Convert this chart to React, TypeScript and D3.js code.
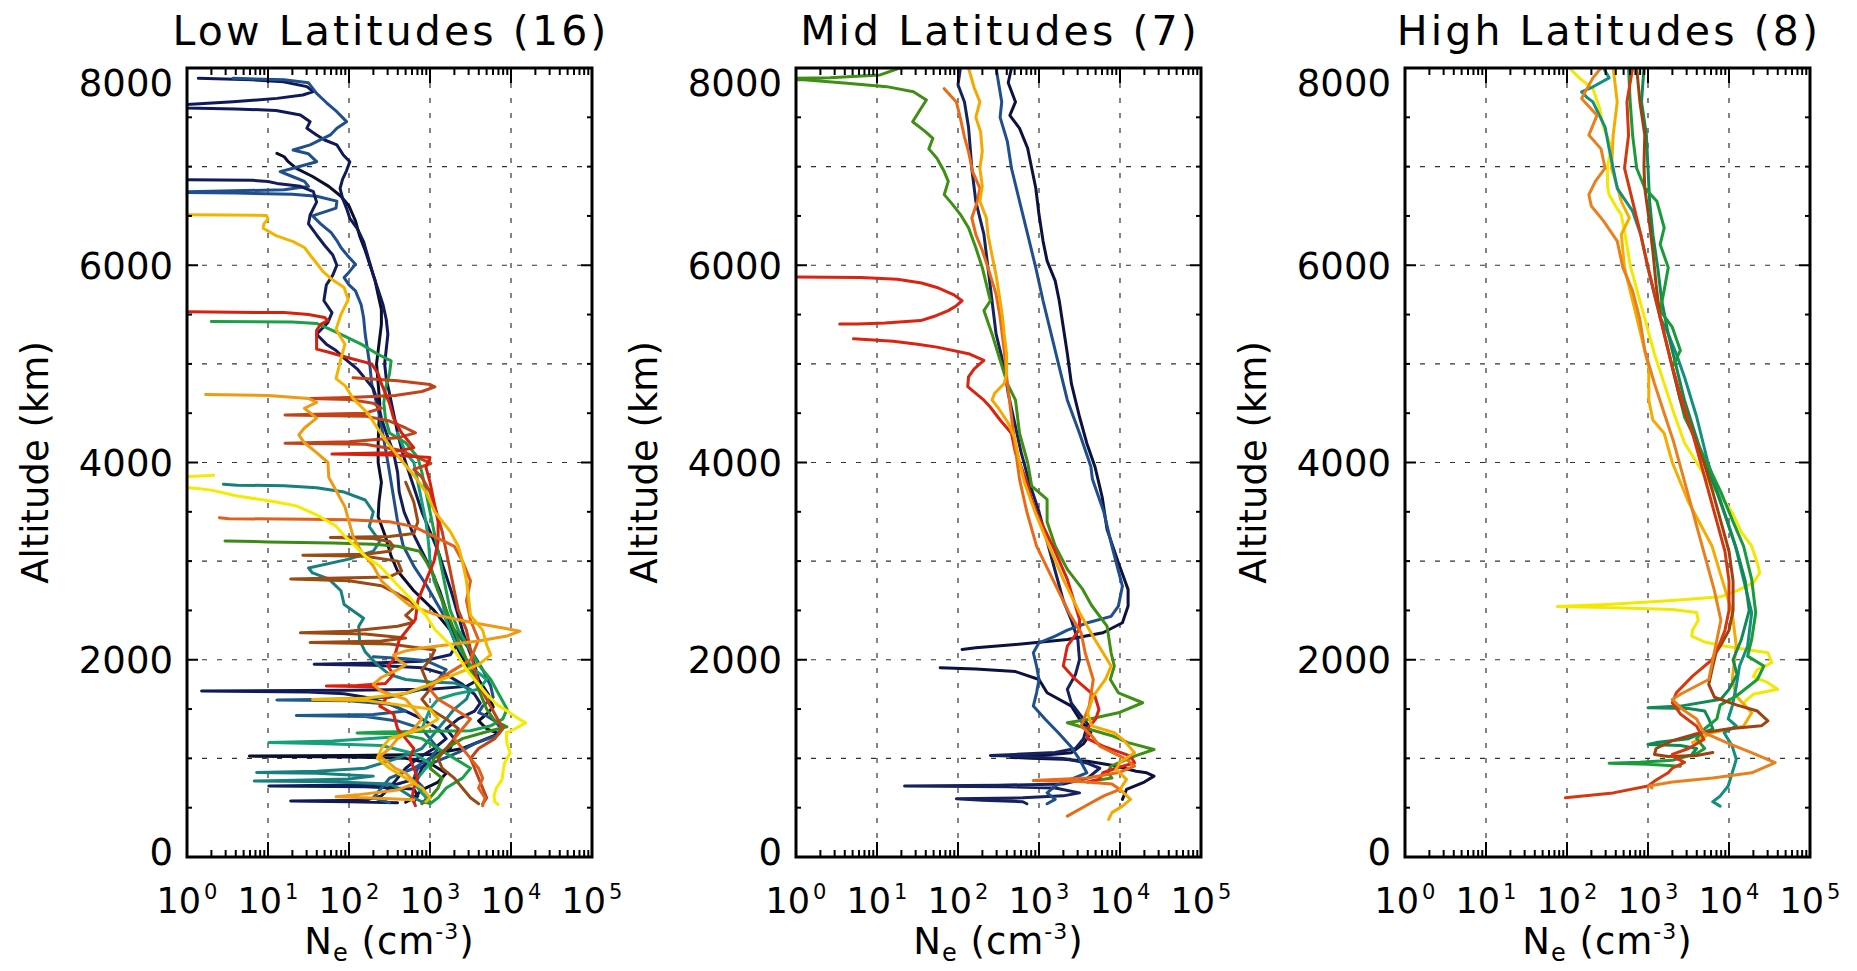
import React from "react";
import * as d3 from "d3";

// Each profile point: [altitude (km), log10 Ne (cm^-3)]; null = gap in the profile
type Pt = [number, number] | null;

// ---------------- axes / labels ----------------
const panelTitles = ["Low Latitudes (16)", "Mid Latitudes (7)", "High Latitudes (8)"];
const yTickValues = [0, 2000, 4000, 6000, 8000];
const yGridValues = [1000, 2000, 3000, 4000, 5000, 6000, 7000];
const yMinorStep = 500;
const xDecades = [0, 1, 2, 3, 4, 5];
const xDomain = [1, 1e5];
const yDomain = [0, 8000];

// ---------------- Low latitudes (16 profiles) ----------------
const low01: Pt[] = [[7135,1.11],[7100,1.2],[7050,1.25],[6983,1.35],[6900,1.55],[6800,1.75],[6700,1.9],[6600,2.0],[6450,2.08],[6300,2.13],[6150,2.2],[6000,2.26],[5850,2.32],[5700,2.36],[5550,2.4],[5400,2.4],[5200,2.37],[5000,2.34],[4800,2.36],[4600,2.38],[4400,2.37],[4200,2.36],[4000,2.36],[3800,2.4],[3600,2.37],[3450,2.36],[3250,2.45],[3050,2.52],[2900,2.6],[2700,2.8],[2500,3.05],[2300,3.25],[2100,3.35],[1950,3.45],[1800,3.6],[1650,3.72],[1520,3.78],[1450,3.7],[1380,3.6],[1300,3.7],[1250,3.85],[1200,3.7],[1100,3.4],[1040,3.0],[1030,2.0],[1023,0.77],[1015,2.0],[1000,2.7],[950,3.0],[850,3.2],[760,3.1],[680,2.9],[600,2.8],[555,2.7]];
const low02: Pt[] = [[7895,0.14],[7880,0.8],[7861,1.19],[7811,1.48],[7760,1.56],[7726,1.43],[7692,1.11],[7658,0.57],[7630,0.0],[7610,-0.3],[7595,0.0],[7585,0.6],[7570,1.1],[7523,1.4],[7456,1.52],[7390,1.48],[7321,1.6],[7270,1.7],[7220,1.85],[7118,1.93],[7050,2.01],[6960,1.97],[6870,1.92],[6780,1.89],[6680,1.92],[6577,1.97],[6476,2.01],[6375,2.1],[6240,2.18],[6070,2.24],[5900,2.3],[5750,2.36],[5600,2.42],[5450,2.46],[5300,2.48],[5150,2.46],[5000,2.44],[4850,2.46],[4700,2.5],[4500,2.55],[4300,2.6],[4100,2.66],[3900,2.74],[3700,2.82],[3500,2.9],[3300,3.0],[3100,3.1],[2900,3.18],[2700,3.26],[2500,3.33],[2300,3.4],[2100,3.48],[1950,3.55],[1800,3.6],[1730,3.45],[1700,3.0],[1690,2.0],[1682,0.18],[1672,1.5],[1655,1.94],[1620,2.2],[1550,2.5],[1480,2.7],[1400,2.9],[1300,3.1],[1200,3.2],[1100,3.05],[1000,2.85],[900,2.7],[800,2.6],[700,2.5],[620,2.4],[575,2.2],[567,1.28],[560,2.0],[550,2.6]];
const low03: Pt[] = [[7895,0.57],[7880,1.2],[7850,1.5],[7743,1.6],[7650,1.72],[7557,1.85],[7456,1.97],[7390,1.85],[7321,1.77],[7220,1.52],[7169,1.31],[7130,1.5],[7050,1.6],[6983,1.31],[6949,1.15],[6900,1.3],[6850,1.45],[6800,1.5],[6765,1.2],[6750,0.3],[6742,-0.3],[6732,0.6],[6720,1.3],[6700,1.6],[6650,1.85],[6580,1.84],[6500,1.55],[6420,1.65],[6330,1.78],[6250,1.85],[6180,1.9],[6100,1.98],[6010,2.08],[5930,2.0],[5875,1.94],[5800,2.0],[5740,2.08],[5600,2.15],[5470,2.18],[5300,2.2],[5136,2.23],[4968,2.26],[4800,2.28],[4632,2.33],[4464,2.38],[4230,2.43],[4000,2.48],[3800,2.52],[3600,2.56],[3400,2.6],[3153,2.67],[2950,2.8],[2750,2.96],[2550,3.1],[2409,3.2],[2200,3.4],[2037,3.55],[1900,3.65],[1733,3.75],[1620,3.78],[1530,3.65],[1463,3.6],[1430,3.7],[1380,3.8],[1300,3.88],[1230,3.82],[1150,3.55],[1060,3.35],[960,3.05],[900,2.85],[800,2.8],[720,2.9],[640,2.95],[580,2.95],[550,2.9]];
const low04: Pt[] = [[6870,-0.3],[6866,0.02],[6862,0.8],[6850,1.0],[6830,1.11],[6800,1.4],[6746,1.56],[6640,1.6],[6510,1.52],[6420,1.5],[6307,1.6],[6200,1.7],[6104,1.8],[6000,1.85],[5900,1.8],[5800,1.72],[5640,1.69],[5520,1.79],[5420,1.74],[5300,1.6],[5200,1.72],[5136,1.84],[5050,1.95],[4950,2.1],[4850,2.2],[4750,2.3],[4600,2.36],[4450,2.4],[4300,2.46],[4100,2.55],[3900,2.6],[3700,2.62],[3500,2.68],[3300,2.78],[3100,2.9],[2900,3.02],[2700,3.12],[2500,3.2],[2300,3.28],[2150,3.33],[2050,3.25],[1985,2.9],[1965,2.2],[1955,1.57],[1945,2.3],[1920,2.9],[1850,3.2],[1750,3.4],[1650,3.55],[1560,3.62],[1480,3.55],[1400,3.35],[1300,3.2],[1200,3.3],[1100,3.25],[1000,3.0],[900,2.9],[800,2.85],[740,2.6],[728,1.8],[720,1.01],[712,2.2],[690,2.8],[620,2.85],[560,2.8]];
const low05: Pt[] = [[2030,2.3],[2010,2.7],[1990,2.95],[1900,3.2],[1800,3.1],[1700,2.9],[1620,2.5],[1600,1.8],[1592,1.11],[1585,2.0],[1550,2.5],[1480,2.7],[1445,2.3],[1435,1.35],[1425,2.2],[1380,2.6],[1300,2.9],[1200,3.0],[1100,3.1],[1000,3.0],[900,2.8],[800,2.5],[700,2.4],[600,2.3],[550,2.5]];
const low06: Pt[] = [[3780,0.45],[3770,0.62],[3765,1.2],[3745,1.6],[3700,1.94],[3620,2.2],[3500,2.3],[3350,2.25],[3200,2.38],[3100,2.3],[3020,2.0],[2930,1.5],[2880,1.55],[2820,1.75],[2700,1.9],[2560,1.94],[2420,2.18],[2340,2.12],[2200,2.13],[2080,2.2],[1950,2.35],[1850,2.5],[1800,2.7],[1775,3.0],[1765,3.3],[1700,3.5],[1600,3.45],[1500,3.3],[1400,3.2],[1300,3.1],[1200,3.0],[1100,2.9],[1000,2.6],[900,2.2],[870,1.6],[858,0.86],[848,1.6],[820,2.3],[790,2.0],[776,1.2],[770,0.83],[762,1.8],[740,2.5],[700,2.6],[620,2.75],[560,2.9],[545,3.0]];
const low07: Pt[] = [[4300,2.6],[4100,2.7],[4000,2.8],[3800,2.85],[3600,2.9],[3400,2.95],[3200,2.98],[3000,3.0],[2800,3.05],[2600,3.15],[2400,3.2],[2200,3.3],[2000,3.45],[1900,3.55],[1800,3.7],[1700,3.6],[1650,3.3],[1600,3.1],[1500,3.0],[1400,2.95],[1300,2.9],[1220,2.6],[1175,1.8],[1160,1.01],[1150,1.6],[1130,2.4],[1050,2.8],[950,3.0],[850,2.9],[750,2.8],[650,2.9],[560,3.0]];
const low08: Pt[] = [[5430,0.3],[5425,1.3],[5410,1.6],[5360,1.74],[5300,1.9],[5200,2.15],[5100,2.35],[5030,2.52],[4900,2.5],[4750,2.45],[4600,2.43],[4450,2.45],[4300,2.5],[4200,2.7],[4050,2.85],[3900,2.9],[3700,2.95],[3500,3.0],[3300,3.05],[3100,3.1],[2900,3.15],[2700,3.2],[2500,3.25],[2300,3.35],[2100,3.5],[1950,3.6],[1800,3.75],[1650,3.85],[1500,3.95],[1400,3.9],[1330,3.75],[1280,3.5],[1268,2.4],[1258,2.1],[1250,2.6],[1200,2.9],[1100,3.1],[1000,3.3],[900,3.5],[800,3.4],[700,3.2],[600,3.1],[540,3.0]];
const low09: Pt[] = [[3205,0.47],[3195,1.0],[3185,1.8],[3172,2.3],[3150,2.6],[3100,2.87],[3000,2.95],[2850,3.05],[2700,3.1],[2500,3.2],[2300,3.3],[2100,3.4],[1900,3.5],[1700,3.6],[1500,3.7],[1380,3.8],[1320,3.95],[1270,3.7],[1200,3.4],[1100,3.2],[1000,3.05],[900,3.0],[800,3.15],[700,3.1],[600,3.0],[540,2.9]];
const low10: Pt[] = [[3800,2.7],[3600,2.8],[3400,2.85],[3280,2.8],[3250,2.5],[3240,1.77],[3230,2.3],[3200,2.5],[3150,2.55],[3100,2.5],[3070,2.2],[3060,1.43],[3050,2.2],[3000,2.6],[2900,2.65],[2840,2.5],[2820,1.28],[2800,2.0],[2750,2.4],[2680,2.57],[2600,2.75],[2540,2.82],[2450,2.7],[2380,2.8],[2340,2.6],[2290,2.0],[2275,1.4],[2260,2.2],[2220,2.7],[2190,2.4],[2175,1.52],[2160,2.5],[2100,3.06],[2000,3.0],[1900,2.9],[1800,2.95],[1700,3.0],[1600,2.9],[1500,3.0],[1400,3.2],[1300,3.35],[1200,3.3],[1100,3.2],[1000,3.1],[900,3.15],[800,3.3],[700,3.4],[600,3.5],[540,3.6]];
const low11: Pt[] = [[4860,2.05],[4830,2.6],[4790,3.0],[4767,3.06],[4720,2.9],[4680,2.57],[4660,2.0],[4650,1.52],[4640,2.0],[4600,2.3],[4550,2.4],[4500,2.2],[4490,1.6],[4481,1.21],[4470,2.2],[4420,2.5],[4350,2.7],[4300,2.82],[4250,2.6],[4210,2.0],[4196,1.21],[4185,2.2],[4130,2.6],[4050,2.85],[3990,3.01],[3930,2.8],[3850,2.9],[3700,3.0],[3500,3.08],[3300,3.15],[3100,3.2],[2900,3.25],[2700,3.3],[2500,3.35],[2300,3.45],[2100,3.5],[1900,3.55],[1750,3.6],[1600,3.7],[1450,3.8],[1300,3.9],[1200,3.8],[1100,3.6],[1000,3.5],[900,3.55],[800,3.6],[700,3.65],[600,3.7],[540,3.65]];
const low12: Pt[] = [[5530,-0.3],[5525,0.3],[5520,1.2],[5500,1.5],[5470,1.7],[5440,1.74],[5400,1.65],[5340,1.6],[5250,1.6],[5150,1.6],[5120,1.74],[5060,2.0],[5000,2.28],[4900,2.36],[4800,2.4],[4700,2.45],[4600,2.5],[4450,2.55],[4300,2.65],[4150,2.8],[4100,2.5],[4085,1.79],[4075,2.5],[4050,3.0],[3950,2.95],[3800,3.0],[3600,3.05],[3400,3.1],[3200,3.1],[3000,3.05],[2800,2.95],[2600,2.85],[2409,2.82],[2200,2.62],[2000,2.55],[1936,2.48],[1850,2.55],[1760,2.45],[1740,2.1],[1733,1.72],[1725,2.3],[1650,2.5],[1530,2.38],[1450,2.55],[1300,2.6],[1200,2.7],[1100,2.8],[1000,2.75],[900,2.8],[800,2.85],[700,2.8],[600,2.78],[520,2.82]];
const low13: Pt[] = [[3440,0.4],[3430,0.52],[3425,1.5],[3420,2.0],[3400,2.5],[3350,2.8],[3250,3.05],[3150,3.3],[3000,3.4],[2800,3.5],[2600,3.45],[2400,3.5],[2200,3.6],[2000,3.5],[1900,3.3],[1800,3.1],[1700,3.0],[1600,3.1],[1500,3.3],[1400,3.5],[1300,3.4],[1200,3.3],[1100,3.4],[1000,3.5],[900,3.6],[800,3.65],[700,3.6],[600,3.68],[520,3.65]];
const low14: Pt[] = [[4690,0.23],[4680,1.0],[4650,1.5],[4610,1.6],[4550,1.45],[4450,1.6],[4350,1.45],[4280,1.38],[4200,1.45],[4100,1.6],[4000,1.74],[3850,1.75],[3700,1.85],[3550,1.95],[3400,2.0],[3250,2.05],[3100,2.15],[2950,2.3],[2800,2.4],[2650,2.6],[2550,2.75],[2450,3.1],[2380,3.5],[2330,3.85],[2290,4.11],[2240,3.95],[2190,3.6],[2150,3.2],[2120,2.9],[2090,2.7],[2050,2.55],[2000,2.6],[1950,2.7],[1900,2.6],[1820,2.4],[1750,2.3],[1680,2.4],[1600,2.7],[1500,2.8],[1400,2.9],[1300,2.8],[1200,2.6],[1100,2.5],[1020,2.38],[950,2.5],[900,2.57],[850,2.7],[750,2.82],[680,2.6],[630,2.1],[610,1.84],[600,2.2],[580,2.8]];
const low15: Pt[] = [[6515,-0.3],[6512,0.0],[6510,0.5],[6505,0.98],[6470,1.0],[6420,0.95],[6375,0.94],[6300,1.1],[6240,1.31],[6180,1.45],[6104,1.52],[6020,1.6],[5935,1.68],[5850,1.8],[5775,1.94],[5650,1.99],[5500,1.9],[5350,1.84],[5200,1.95],[5050,1.9],[4850,1.84],[4780,1.95],[4650,2.05],[4500,2.23],[4350,2.35],[4250,2.43],[4100,2.57],[3950,2.72],[3850,2.82],[3700,2.95],[3500,3.06],[3300,3.25],[3150,3.35],[3000,3.4],[2800,3.45],[2600,3.48],[2450,3.5],[2300,3.65],[2150,3.7],[2050,3.75],[1950,3.6],[1850,3.3],[1750,3.0],[1660,2.7],[1610,2.2],[1598,1.55],[1588,2.2],[1500,3.0],[1400,3.1],[1300,2.9],[1200,2.5],[1100,2.4],[1000,2.35],[900,2.5],[800,2.7],[700,2.9],[600,3.0],[560,2.95]];
const low16: Pt[] = [[3870,0.33],[3860,0.1],[3850,-0.3],[3760,-0.3],[3740,0.1],[3720,0.3],[3660,0.62],[3600,1.1],[3560,1.35],[3470,1.6],[3355,1.84],[3250,1.95],[3150,2.08],[3050,2.2],[2950,2.38],[2800,2.55],[2610,2.77],[2450,2.95],[2307,3.06],[2150,3.25],[2037,3.35],[1900,3.45],[1800,3.55],[1650,3.7],[1550,3.82],[1460,3.99],[1400,4.1],[1360,4.18],[1300,4.05],[1260,3.94],[1150,3.95],[1057,3.99],[950,3.92],[850,3.9],[787,3.89],[700,3.82],[620,3.79],[560,3.8],[533,3.84]];
const lowProfiles = [low01, low02, low03, low04, low05, low06, low07, low08, low09, low10, low11, low12, low13, low14, low15, low16];
const lowColors = ["#0b0f2e", "#101a58", "#1f4f8c", "#141d5c", "#1e5a8a", "#17807f", "#13a07a", "#1aa046", "#3a8a18", "#9a4a14", "#c0431a", "#d8200e", "#e0601c", "#ef9a14", "#f3b400", "#f6ea00"];

// ---------------- Mid latitudes (7 profiles) ----------------
const mid01: Pt[] = [[8000,2.66],[7850,2.62],[7656,2.71],[7520,2.64],[7388,2.76],[7186,2.86],[6984,2.91],[6783,2.96],[6514,3.0],[6245,3.05],[6044,3.1],[5842,3.2],[5640,3.25],[5372,3.3],[5103,3.35],[4800,3.4],[4464,3.5],[4196,3.59],[3960,3.69],[3650,3.78],[3322,3.84],[2984,3.98],[2713,4.1],[2544,4.1],[2375,4.03],[2274,3.79],[2206,3.35],[2155,2.71],[2122,2.22],[2105,2.05],null,[1920,1.78],[1905,2.22],[1880,2.71],[1800,3.0],[1665,3.1],[1530,3.4],[1400,3.5],[1260,3.64],[1150,3.55],[1057,3.4],[1030,3.0],[1010,2.66],[1000,2.9],[990,3.3],[970,3.6],[930,3.9],[870,4.2],[854,4.33],[820,4.42],[760,4.3],[685,4.08],[584,4.03]];
const mid02: Pt[] = [[8000,2.03],[7830,2.0],[7656,2.08],[7400,2.13],[7200,2.15],[6984,2.17],[6648,2.22],[6312,2.32],[5976,2.37],[5640,2.42],[5304,2.47],[4968,2.57],[4700,2.62],[4400,2.7],[4100,2.78],[3800,2.88],[3500,3.0],[3200,3.1],[2900,3.2],[2600,3.3],[2400,3.4],[2200,3.48],[2000,3.5],[1850,3.45],[1700,3.35],[1560,3.4],[1450,3.5],[1350,3.6],[1200,3.55],[1100,3.45],[1060,3.2],[1040,2.7],[1030,2.4],[1020,2.8],[1000,3.3],[950,3.6],[900,3.75],[800,3.6],[740,3.3],[728,2.5],[720,1.34],[712,2.6],[700,3.2],[650,3.5],[620,3.3],[600,2.8],[590,1.98],[575,2.3],[560,2.8],[540,2.85]];
const mid03: Pt[] = [[8000,2.47],[7656,2.54],[7500,2.52],[7253,2.61],[6984,2.66],[6648,2.76],[6312,2.86],[5976,2.96],[5640,3.05],[5304,3.15],[4968,3.25],[4632,3.35],[4296,3.5],[3960,3.64],[3829,3.66],[3500,3.8],[3153,3.9],[2900,3.98],[2747,4.03],[2544,3.98],[2440,3.89],[2375,3.6],[2300,3.35],[2240,3.2],[2172,3.0],[2071,2.93],[1936,2.97],[1800,3.0],[1665,2.97],[1530,2.93],[1395,3.08],[1250,3.25],[1124,3.39],[990,3.5],[854,3.59],[790,3.4],[720,3.2],[650,3.1],[584,3.2],[540,3.1]];
const mid04: Pt[] = [[8000,1.28],[7930,1.04],[7900,0.42],[7895,-0.3],[7885,-0.3],[7880,0.1],[7845,0.63],[7811,1.12],[7760,1.45],[7676,1.61],[7600,1.55],[7455,1.44],[7360,1.59],[7287,1.69],[7180,1.64],[7085,1.74],[6950,1.83],[6850,1.88],[6716,1.83],[6620,1.93],[6514,2.03],[6380,2.13],[6178,2.22],[5976,2.3],[5740,2.37],[5640,2.4],[5540,2.32],[5304,2.42],[5035,2.52],[4800,2.61],[4632,2.71],[4296,2.76],[4000,2.86],[3761,2.91],[3626,3.1],[3400,3.1],[3153,3.2],[2916,3.35],[2713,3.54],[2550,3.65],[2341,3.84],[2071,3.89],[1936,3.93],[1800,3.88],[1665,3.98],[1564,4.28],[1462,3.98],[1395,3.6],[1361,3.35],[1300,3.6],[1230,3.9],[1160,4.1],[1090,4.42],[1023,4.18],[922,3.89],[860,3.85],[800,3.9],[770,3.65]];
const mid05: Pt[] = [[5882,-0.3],[5882,0.0],[5875,0.8],[5859,1.25],[5820,1.55],[5775,1.74],[5700,1.95],[5640,2.05],[5590,1.98],[5540,1.88],[5480,1.7],[5439,1.54],[5415,1.1],[5405,0.76],[5405,0.54],null,[5254,0.71],[5230,1.2],[5200,1.5],[5170,1.74],[5103,2.13],[5035,2.32],[4950,2.2],[4868,2.13],[4770,2.12],[4632,2.32],[4560,2.4],[4431,2.52],[4296,2.66],[4095,2.71],[4000,2.76],[3800,2.85],[3650,2.9],[3491,2.97],[3153,3.17],[2815,3.35],[2409,3.5],[2307,3.5],[2139,3.35],[1936,3.3],[1800,3.45],[1632,3.69],[1496,3.74],[1400,3.7],[1294,3.59],[1200,3.6],[1124,3.79],[1023,4.13],[956,4.18],[900,3.95],[854,3.79],[787,3.74],[760,3.6]];
const mid06: Pt[] = [[7790,1.83],[7656,1.98],[7488,2.03],[7300,2.08],[7152,2.13],[6950,2.18],[6783,2.27],[6650,2.24],[6480,2.17],[6312,2.22],[6150,2.3],[5976,2.37],[5707,2.47],[5472,2.52],[5136,2.57],[4800,2.61],[4464,2.66],[4129,2.71],[3829,2.76],[3500,2.85],[3153,2.97],[2815,3.17],[2477,3.37],[2274,3.52],[2071,3.57],[1800,3.67],[1530,3.62],[1327,3.52],[1230,3.65],[1124,3.75],[990,4.08],[922,4.18],[860,4.0],[800,3.6],[775,2.93],[765,3.5],[740,3.9],[685,4.0],[620,3.8],[530,3.6],[415,3.35]];
const mid07: Pt[] = [[8000,2.13],[7800,2.2],[7656,2.27],[7500,2.22],[7350,2.28],[7152,2.3],[6984,2.27],[6800,2.3],[6648,2.27],[6480,2.35],[6312,2.37],[6100,2.42],[5900,2.47],[5640,2.52],[5472,2.55],[5304,2.57],[5100,2.6],[4900,2.6],[4800,2.57],[4700,2.45],[4632,2.42],[4550,2.5],[4400,2.62],[4250,2.7],[4000,2.76],[3800,2.82],[3500,2.95],[3200,3.1],[2815,3.3],[2477,3.5],[2206,3.69],[2071,3.79],[1936,3.89],[1800,3.82],[1632,3.67],[1462,3.6],[1330,3.65],[1260,3.93],[1180,4.05],[1057,4.18],[960,4.0],[890,3.95],[787,4.08],[685,4.0],[584,4.13],[516,4.03],[450,3.9],[381,3.86]];
const midProfiles = [mid01, mid02, mid03, mid04, mid05, mid06, mid07];
const midColors = ["#0b1240", "#15225e", "#1f4f8c", "#3f8f14", "#dc2210", "#ea6a18", "#f5a800"];

// ---------------- High latitudes (8 profiles) ----------------
const high01: Pt[] = [[8000,2.03],[7900,2.15],[7790,2.32],[7600,2.4],[7400,2.45],[7200,2.55],[7000,2.5],[6800,2.5],[6715,2.52],[6600,2.6],[6514,2.67],[6300,2.72],[6000,2.78],[5700,2.88],[5400,2.98],[5100,3.08],[4800,3.2],[4500,3.32],[4200,3.45],[4000,3.6],[3800,3.75],[3600,3.95],[3491,4.04],[3300,4.15],[3153,4.28],[2950,4.36],[2882,4.38],[2780,4.3],[2700,4.1],[2640,3.9],[2600,3.3],[2560,2.5],[2540,1.88],[2530,2.5],[2510,3.3],[2480,3.6],[2400,3.62],[2300,3.55],[2240,3.54],[2180,3.7],[2139,3.94],[2071,4.48],[1970,4.53],[1900,4.35],[1830,4.3],[1767,4.48],[1700,4.6],[1650,4.3],[1580,4.2],[1530,4.18]];
const high02: Pt[] = [[8000,2.57],[7656,2.62],[7320,2.57],[6984,2.55],[6800,2.62],[6648,2.67],[6480,2.77],[6312,2.67],[5976,2.71],[5640,2.81],[5304,2.91],[4968,3.01],[4632,3.01],[4430,3.06],[4296,3.2],[4000,3.3],[3600,3.5],[3153,3.79],[2800,3.92],[2477,4.04],[2139,4.09],[1800,4.04],[1632,4.09],[1462,4.28],[1327,4.18],[1260,3.79],[1200,3.65],[1160,3.55]];
const high03: Pt[] = [[8000,2.45],[7900,2.52],[7800,2.3],[7757,2.18],[7700,2.25],[7656,2.32],[7400,2.47],[7184,2.52],[6984,2.57],[6780,2.62],[6548,2.81],[6312,2.91],[5976,3.0],[5700,3.08],[5472,3.15],[5304,3.25],[5100,3.35],[4868,3.45],[4464,3.6],[4000,3.74],[3600,3.9],[3153,4.08],[2815,4.18],[2477,4.28],[2139,4.23],[1936,4.13],[1733,4.09],[1530,4.04],[1400,3.99],[1330,4.09],[1260,3.94],[1124,4.04],[990,4.09],[854,4.04],[720,3.99],[617,3.89],[560,3.8],[516,3.89]];
const high04: Pt[] = [[8000,2.95],[7656,2.92],[7320,2.98],[6984,3.0],[6648,3.02],[6312,3.06],[5976,3.12],[5640,3.17],[5304,3.25],[4968,3.35],[4632,3.45],[4296,3.58],[4000,3.7],[3700,3.85],[3400,3.98],[3100,4.1],[2800,4.2],[2500,4.25],[2200,4.15],[2000,4.05],[1850,4.1],[1700,4.0],[1600,3.9],[1530,3.4],[1513,3.0],[1505,3.5],[1480,3.7],[1400,3.75],[1300,3.8],[1250,3.65],[1200,3.5],[1160,3.1],[1140,3.0],[1130,3.4],[1100,3.6],[1050,3.55]];
const high05: Pt[] = [[8000,2.76],[7656,2.78],[7320,2.81],[6984,2.86],[6783,2.96],[6648,3.11],[6380,3.2],[6212,3.15],[5976,3.25],[5750,3.2],[5540,3.15],[5372,3.3],[5136,3.4],[4968,3.3],[4800,3.35],[4464,3.45],[4061,3.69],[3700,3.9],[3400,4.05],[3153,4.18],[2815,4.28],[2477,4.33],[2206,4.28],[2037,4.23],[1936,4.43],[1800,4.35],[1632,4.09],[1540,3.89],[1400,3.85],[1300,3.7],[1200,3.6],[1100,3.7],[1050,3.6],[980,3.3],[960,2.9],[951,2.52],[940,3.0],[920,3.4]];
const high06: Pt[] = [[8000,2.86],[7656,2.9],[7320,2.96],[7000,2.95],[6783,2.96],[6480,3.01],[6144,3.06],[5800,3.1],[5472,3.15],[5136,3.25],[4632,3.4],[4300,3.55],[4000,3.69],[3700,3.8],[3400,3.9],[3100,4.0],[2800,4.05],[2500,4.05],[2300,4.0],[2150,3.9],[2071,3.84],[1936,3.8],[1750,3.75],[1620,3.82],[1540,4.1],[1480,4.35],[1380,4.48],[1330,4.4],[1300,4.0],[1250,3.6],[1180,3.3],[1100,3.1],[1040,3.08],[1020,3.25],[1030,3.6],[1060,3.8]];
const high07: Pt[] = [[8000,2.81],[7656,2.74],[7320,2.76],[6984,2.71],[6648,2.81],[6312,2.91],[5976,3.0],[5640,3.1],[5304,3.2],[4968,3.3],[4632,3.42],[4296,3.55],[4000,3.65],[3700,3.75],[3400,3.85],[3100,3.95],[2800,4.0],[2500,4.0],[2300,3.95],[2150,3.88],[2000,3.79],[1834,3.55],[1665,3.35],[1564,3.3],[1450,3.4],[1327,3.6],[1192,3.69],[1100,3.5],[1040,3.3],[1023,3.3],[960,3.45],[900,3.3],[854,3.25],[780,3.1],[720,3.0],[650,2.57],[600,1.98]];
const high08: Pt[] = [[8000,2.42],[7900,2.32],[7690,2.18],[7520,2.37],[7320,2.27],[7180,2.42],[6984,2.47],[6850,2.35],[6715,2.27],[6600,2.3],[6450,2.45],[6245,2.62],[5976,2.69],[5740,2.81],[5450,2.9],[5136,2.96],[4800,3.08],[4500,3.2],[4200,3.32],[3900,3.42],[3600,3.52],[3300,3.62],[3000,3.72],[2700,3.82],[2400,3.9],[2200,3.85],[2000,3.8],[1800,3.75],[1650,3.4],[1598,3.3],[1500,3.42],[1400,3.6],[1260,3.69],[1150,4.0],[1050,4.3],[956,4.57],[854,4.28],[800,3.8],[760,3.3],[720,3.01],[700,3.05]];
const highProfiles = [high01, high02, high03, high04, high05, high06, high07, high08];
const highColors = ["#f2e800", "#f4ac00", "#128f7e", "#0f8a52", "#1a9a3a", "#a0420e", "#d4380e", "#e8801e"];

// ---------------- layout ----------------
const W = 1857;
const H = 971;
const panelLeft = [187, 796, 1405];
const plotW = 405;
const plotTop = 68;
const plotBottom = 857;
const FONT = "DejaVu Sans, Verdana, sans-serif";

const panels = [
  { title: panelTitles[0], profiles: lowProfiles, colors: lowColors },
  { title: panelTitles[1], profiles: midProfiles, colors: midColors },
  { title: panelTitles[2], profiles: highProfiles, colors: highColors },
];

function Panel({ idx }: { idx: number }) {
  const p = panels[idx];
  const x0 = panelLeft[idx];
  const x1 = x0 + plotW;
  const x = d3.scaleLog().domain(xDomain).range([x0, x1]);
  const y = d3.scaleLinear().domain(yDomain).range([plotBottom, plotTop]);
  const line = d3
    .line<Pt>()
    .defined((d) => d !== null)
    .x((d) => x(Math.pow(10, (d as [number, number])[1])))
    .y((d) => y((d as [number, number])[0]));

  const minorX: number[] = [];
  for (let dd = 0; dd < 5; dd++) for (let m = 2; m <= 9; m++) minorX.push(Math.pow(10, dd) * m);
  const yMinor = d3.range(yDomain[0], yDomain[1] + 1, yMinorStep);
  const cx = (x0 + x1) / 2;
  const cy = (plotTop + plotBottom) / 2;
  const clipId = `clip${idx}`;

  return (
    <g>
      <defs>
        <clipPath id={clipId}>
          <rect x={x0} y={plotTop} width={plotW} height={plotBottom - plotTop} />
        </clipPath>
      </defs>
      {/* grid */}
      <g stroke="#333" strokeWidth={1.2} strokeDasharray="5 10">
        {xDecades.slice(1, 5).map((d) => (
          <line key={"gx" + d} x1={x(Math.pow(10, d))} x2={x(Math.pow(10, d))} y1={plotTop} y2={plotBottom} />
        ))}
        {yGridValues.map((v) => (
          <line key={"gy" + v} x1={x0} x2={x1} y1={y(v)} y2={y(v)} />
        ))}
      </g>
      {/* profiles */}
      <g clipPath={`url(#${clipId})`} fill="none" strokeWidth={3} strokeLinejoin="round" strokeLinecap="round">
        {p.profiles.map((prof, i) => (
          <path key={i} d={line(prof) || ""} stroke={p.colors[i]} />
        ))}
      </g>
      {/* frame */}
      <rect x={x0} y={plotTop} width={plotW} height={plotBottom - plotTop} fill="none" stroke="#000" strokeWidth={3} />
      {/* ticks */}
      <g stroke="#000" strokeWidth={2}>
        {xDecades.map((d) => {
          const xx = x(Math.pow(10, d));
          return (
            <g key={"tx" + d}>
              <line x1={xx} x2={xx} y1={plotBottom} y2={plotBottom - 15} />
              <line x1={xx} x2={xx} y1={plotTop} y2={plotTop + 15} />
            </g>
          );
        })}
        {minorX.map((v, i) => {
          const xx = x(v);
          return (
            <g key={"mx" + i}>
              <line x1={xx} x2={xx} y1={plotBottom} y2={plotBottom - 7} />
              <line x1={xx} x2={xx} y1={plotTop} y2={plotTop + 7} />
            </g>
          );
        })}
        {yMinor.map((v) => {
          const yy = y(v);
          const len = v % 2000 === 0 ? 11 : 5;
          return (
            <g key={"ty" + v}>
              <line x1={x0} x2={x0 + len} y1={yy} y2={yy} />
              <line x1={x1} x2={x1 - len} y1={yy} y2={yy} />
            </g>
          );
        })}
      </g>
      {/* y tick labels */}
      <g fontFamily={FONT} fontSize={37} fill="#000" textAnchor="end">
        {yTickValues.map((v) => {
          const shift = v === yDomain[1] ? 14 : v === yDomain[0] ? -6 : 0;
          return (
            <text key={"ly" + v} x={x0 - 14} y={y(v) + shift + 13.5}>
              {v}
            </text>
          );
        })}
      </g>
      {/* x tick labels */}
      <g fontFamily={FONT} fill="#000" textAnchor="middle">
        {xDecades.map((d) => (
          <text key={"lx" + d} x={x(Math.pow(10, d))} y={913} fontSize={35}>
            10
            <tspan fontSize={21} dx={3} dy={-14}>
              {d}
            </tspan>
          </text>
        ))}
      </g>
      {/* axis titles */}
      <text
        fontFamily={FONT}
        fontSize={37}
        textAnchor="middle"
        transform={`translate(${x0 - 139},${cy}) rotate(-90)`}
      >
        Altitude (km)
      </text>
      <text fontFamily={FONT} fontSize={37} textAnchor="middle" x={cx} y={954} letterSpacing={1}>
        N
        <tspan fontSize={24} dy={7}>e</tspan>
        <tspan dy={-7}> (cm</tspan>
        <tspan fontSize={22} dy={-15}>-3</tspan>
        <tspan dy={15}>)</tspan>
      </text>
      {/* title */}
      <text fontFamily={FONT} fontSize={41} textAnchor="middle" x={cx + 1.5} y={45} letterSpacing={3.1}>
        {p.title}
      </text>
    </g>
  );
}

export default function App() {
  return (
    <svg
      width={W}
      height={H}
      viewBox={`0 0 ${W} ${H}`}
      style={{ position: "absolute", left: 0, top: 0, background: "#fff", display: "block" }}
    >
      <rect x={0} y={0} width={W} height={H} fill="#fff" />
      {panels.map((_, i) => (
        <Panel key={i} idx={i} />
      ))}
    </svg>
  );
}
